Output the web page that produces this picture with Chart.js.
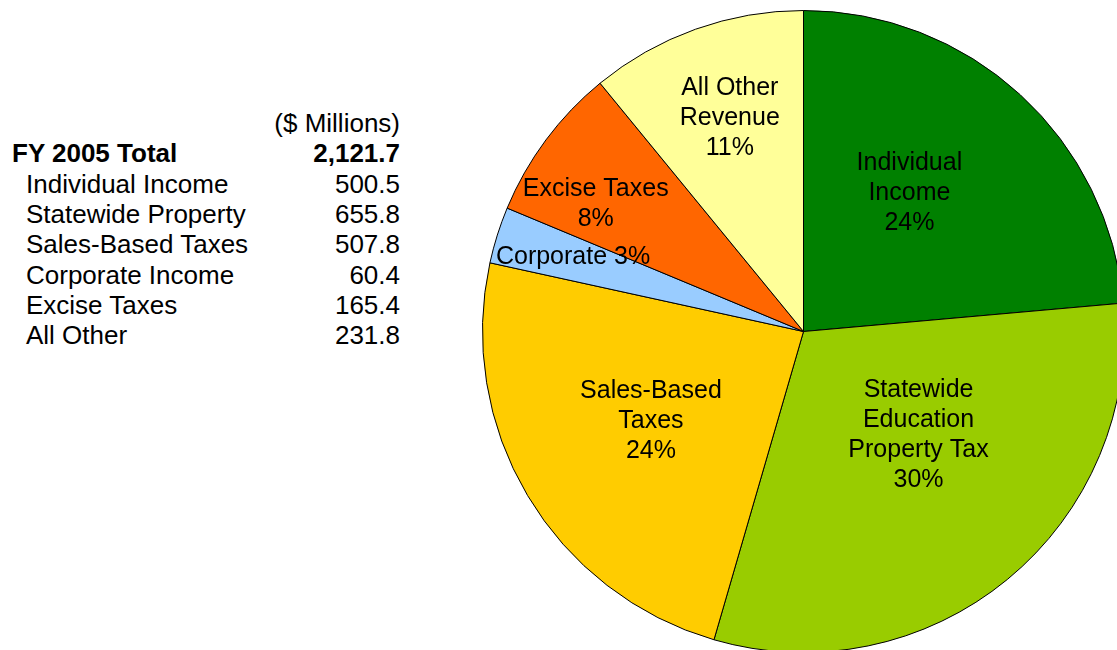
<!DOCTYPE html>
<html>
<head>
<meta charset="utf-8">
<script src="https://cdn.jsdelivr.net/npm/chart.js@4/dist/chart.umd.min.js"></script>
<style>
  html, body { margin:0; padding:0; width:1117px; height:650px; overflow:hidden; background:#fff; }
  #wrap { position:absolute; left:482px; top:10px; width:643px; height:643px; }
  .tbl { position:absolute; font-family:"Liberation Sans", Arial, sans-serif; font-size:26px; line-height:30px; color:#000; white-space:nowrap; }
  .num { text-align:right; width:400px; left:0; }
  .bold { font-weight:bold; }
</style>
</head>
<body>
<div id="table"></div>
<div id="wrap"><canvas id="c" width="643" height="643" style="width:643px;height:643px"></canvas></div>
<script>
// ---- data ----
const unitsLabel = "($ Millions)";
const totalLabel = "FY 2005 Total";
const totalValue = "2,121.7";
const categories = ["Individual Income", "Statewide Property", "Sales-Based Taxes", "Corporate Income", "Excise Taxes", "All Other"];
const values = [500.5, 655.8, 507.8, 60.4, 165.4, 231.8];
const valueLabels = ["500.5", "655.8", "507.8", "60.4", "165.4", "231.8"];
const sliceLabels = [["Individual", "Income"], ["Statewide", "Education", "Property Tax"], ["Sales-Based", "Taxes"], ["Corporate"], ["Excise Taxes"], ["All Other", "Revenue"]];
const pctLabels = ["24%", "30%", "24%", "3%", "8%", "11%"];

// ---- styles ----
const colors = ["#008000", "#99CC00", "#FFCC00", "#99CCFF", "#FF6600", "#FFFF99"];
const labelPlace = [
  {f:0.544, da:-5.13}, {f:0.483, da:-8.46}, {f:0.551, da:0.33},
  {f:0.754, da:0.32}, {f:0.760, da:-5.03}, {f:0.702, da:0.57}
];
const pctInline = [false, false, false, true, false, false];

// ---- table (HTML text) ----
const tbl = document.getElementById('table');
const firstBaseline = 132, rowStep = 30.35, baseOff = 24;
function addText(txt, cls, left, row) {
  const d = document.createElement('div');
  d.className = 'tbl ' + cls;
  d.textContent = txt;
  d.style.top = (firstBaseline + row * rowStep - baseOff) + 'px';
  if (left !== null) d.style.left = left + 'px';
  tbl.appendChild(d);
}
addText(unitsLabel, 'num', null, 0);
addText(totalLabel, 'bold', 12, 1);
addText(totalValue, 'num bold', null, 1);
categories.forEach((c, i) => {
  addText(c, '', 26, i + 2);
  addText(valueLabels[i], 'num', null, i + 2);
});

// ---- slice labels plugin ----
const sliceLabelPlugin = {
  id: 'sliceLabels',
  afterDatasetsDraw(chart) {
    const ctx = chart.ctx;
    const meta = chart.getDatasetMeta(0);
    ctx.save();
    ctx.font = '25px "Liberation Sans", Arial, sans-serif';
    ctx.fillStyle = '#000';
    ctx.textAlign = 'center';
    ctx.textBaseline = 'middle';
    const lh = 30;
    meta.data.forEach((arc, i) => {
      const p = arc.getProps(['x', 'y', 'startAngle', 'endAngle', 'outerRadius'], true);
      const mid = (p.startAngle + p.endAngle) / 2 + labelPlace[i].da * Math.PI / 180;
      const r = p.outerRadius * labelPlace[i].f;
      const cx = p.x + Math.cos(mid) * r;
      const cy = p.y + Math.sin(mid) * r;
      let lines = sliceLabels[i].slice();
      if (pctInline[i]) lines[lines.length - 1] += ' ' + pctLabels[i];
      else lines.push(pctLabels[i]);
      const top = cy - (lines.length - 1) * lh / 2;
      lines.forEach((ln, k) => ctx.fillText(ln, cx, top + k * lh));
    });
    ctx.restore();
  }
};

new Chart(document.getElementById('c'), {
  type: 'pie',
  data: {
    labels: categories,
    datasets: [{
      data: values,
      backgroundColor: colors,
      borderColor: '#000000',
      borderWidth: 1,
      hoverOffset: 0
    }]
  },
  options: {
    responsive: false,
    animation: false,
    events: [],
    layout: { padding: 0 },
    plugins: { legend: { display: false }, tooltip: { enabled: false } }
  },
  plugins: [sliceLabelPlugin]
});
</script>
</body>
</html>
